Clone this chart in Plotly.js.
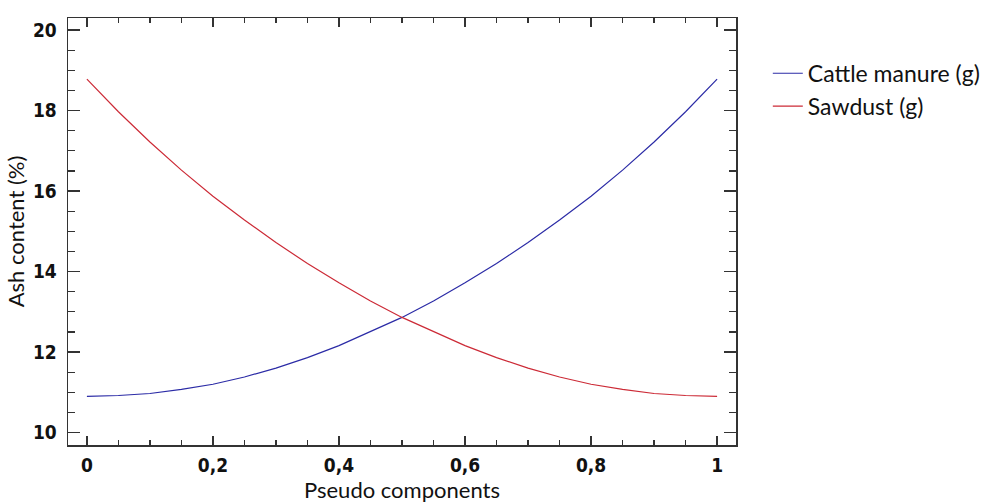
<!DOCTYPE html>
<html>
<head>
<meta charset="utf-8">
<script src="https://cdn.plot.ly/plotly-3.0.1.min.js"></script>
<style>
html,body{margin:0;padding:0;background:#fff;}
#chart{width:992px;height:503px;}
.xtick text, .ytick text{font-stretch:condensed !important;}
</style>
</head>
<body>
<div id="chart"></div>
<script>
var pseudo = [0, 0.05, 0.1, 0.15, 0.2, 0.25, 0.3, 0.35, 0.4, 0.45, 0.5, 0.55, 0.6, 0.65, 0.7, 0.75, 0.8, 0.85, 0.9, 0.95, 1];
var cattleManure = [10.90, 10.92, 10.97, 11.07, 11.20, 11.38, 11.60, 11.86, 12.16, 12.50, 12.86, 13.27, 13.72, 14.20, 14.72, 15.28, 15.87, 16.52, 17.22, 17.97, 18.78];
var sawdust = [18.78, 17.97, 17.22, 16.52, 15.87, 15.28, 14.72, 14.20, 13.72, 13.27, 12.86, 12.50, 12.16, 11.86, 11.60, 11.38, 11.20, 11.07, 10.97, 10.92, 10.90];
var seriesNames = ["Cattle manure (g)", "Sawdust (g)"];
var xTitle = "Pseudo components";
var yTitle = "Ash content (%)";

var tickFont = {family: "'DejaVu Sans Condensed', 'Liberation Sans', Arial, sans-serif", size: 19, color: "#111", weight: "bold"};
var titleFont = {family: "Lato, 'Open Sans', sans-serif", size: 22, color: "#111"};
var axisCommon = {
  showline: true, linecolor: "#333", linewidth: 1.5, mirror: "ticks",
  ticks: "inside", tickcolor: "#333", tickwidth: 1.3,
  showgrid: false, zeroline: false, tickfont: tickFont
};

var data = [
  {x: pseudo, y: cattleManure, name: seriesNames[0], type: "scatter", mode: "lines",
   line: {color: "#2b2ba6", width: 1.2}},
  {x: pseudo, y: sawdust, name: seriesNames[1], type: "scatter", mode: "lines",
   line: {color: "#cc2a36", width: 1.2}}
];

var layout = {
  width: 992, height: 503,
  margin: {l: 68, r: 256, t: 18, b: 58},
  paper_bgcolor: "#fff", plot_bgcolor: "#fff",
  separators: ", ",
  showlegend: true,
  xaxis: Object.assign({}, axisCommon, {
    range: [-0.03, 1.03], dtick: 0.2, tick0: 0, ticklen: 9, ticklabelstandoff: 3,
    minor: {dtick: 0.05, tick0: 0, ticks: "inside", ticklen: 5, tickcolor: "#333", tickwidth: 1.3},
    title: {text: xTitle, font: titleFont, standoff: 0}
  }),
  yaxis: Object.assign({}, axisCommon, {
    range: [9.69, 20.3], dtick: 2, tick0: 10, ticklen: 12, ticklabelstandoff: 6,
    minor: {dtick: 0.5, tick0: 10, ticks: "inside", ticklen: 7, tickcolor: "#333", tickwidth: 1.3},
    title: {text: yTitle, font: titleFont, standoff: 2}
  }),
  legend: {
    xref: "container", yref: "container", x: 0.774, y: 0.897, xanchor: "left", yanchor: "top",
    font: {family: "Lato, 'Open Sans', sans-serif", size: 23, color: "#111"},
    tracegroupgap: 0,
    bgcolor: "rgba(0,0,0,0)", borderwidth: 0
  }
};

Plotly.newPlot("chart", data, layout, {displayModeBar: false, staticPlot: true});
</script>
</body>
</html>
